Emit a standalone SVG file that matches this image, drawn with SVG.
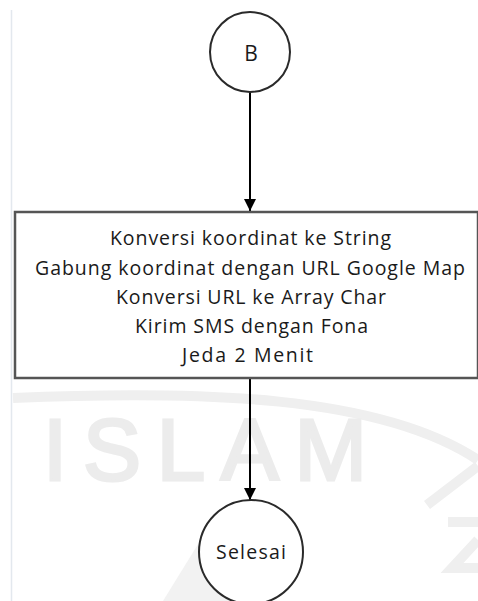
<svg xmlns="http://www.w3.org/2000/svg" width="478" height="601" viewBox="0 0 478 601">
  <defs>
    <marker id="arrow" viewBox="0 0 12 12" refX="12" refY="6" markerWidth="12" markerHeight="12" markerUnits="userSpaceOnUse" orient="auto">
      <path d="M0,0 L12,6 L0,12 Z" fill="#000"/>
    </marker>
  </defs>
  <style>
    .lbl { font-family: "Open Sans", "Liberation Sans", sans-serif; font-size: 19.5px; fill: #1a1a1a; text-anchor: middle; }
    .term { fill: #fff; stroke: #2a2a2a; stroke-width: 2; }
    .proc { fill: #fff; stroke: #555; stroke-width: 2.5; }
    .conn { stroke: #000; stroke-width: 2; fill: none; marker-end: url(#arrow); }
    .wm { fill: none; stroke: #efefef; stroke-width: 10; }
    .wmt { font-family: "Liberation Sans", Arial, sans-serif; font-size: 87px; fill: #ececec; stroke: #ececec; stroke-width: 3; }
  </style>
  <rect x="0" y="0" width="478" height="601" fill="#fff"/>
  <line x1="11.5" y1="10" x2="11.5" y2="601" stroke="#e3e8ee" stroke-width="1.5"/>
  <g id="watermark">
    <path class="wm" d="M13 398 C200 390 380 395 478 460"/>
    <path class="wm" d="M427 505 L478 466"/>
    <path class="wm" d="M448 522 L478 522 M478 540 L452 568 L478 568"/>
    <polygon points="163,601 200,541 240,601" fill="#f2f2f2"/>
    <text class="wmt" x="43" y="480" textLength="324" lengthAdjust="spacing">ISLAM</text>
  </g>
  <g id="connectors">
    <line class="conn" x1="250" y1="92" x2="250" y2="211"/>
    <line class="conn" x1="250" y1="378" x2="250" y2="500"/>
  </g>
  <g id="node-b">
    <circle class="term" cx="250" cy="52" r="40"/>
    <text class="lbl" x="251" y="61" style="font-size:21px">B</text>
  </g>
  <g id="node-proses">
    <rect class="proc" x="15" y="212" width="463" height="166"/>
    <text class="lbl" x="250.5" y="245" textLength="281" lengthAdjust="spacing">Konversi koordinat ke String</text>
    <text class="lbl" x="250" y="274.5" textLength="430" lengthAdjust="spacing">Gabung koordinat dengan URL Google Map</text>
    <text class="lbl" x="251" y="304" textLength="270" lengthAdjust="spacing">Konversi URL ke Array Char</text>
    <text class="lbl" x="251.5" y="333" textLength="233" lengthAdjust="spacing">Kirim SMS dengan Fona</text>
    <text class="lbl" x="247.5" y="362" textLength="131" lengthAdjust="spacing">Jeda 2 Menit</text>
  </g>
  <g id="node-selesai">
    <circle class="term" cx="251" cy="552" r="52"/>
    <text class="lbl" x="251" y="559" textLength="70" lengthAdjust="spacing">Selesai</text>
  </g>
</svg>
